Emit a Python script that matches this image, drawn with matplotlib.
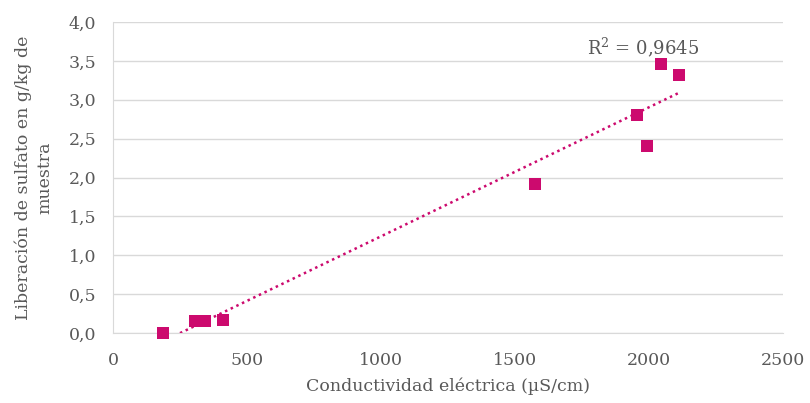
import numpy as np
import matplotlib.pyplot as plt
from matplotlib.ticker import FuncFormatter

# data
conductividad = [187, 306, 343, 411, 1575, 1955, 1993, 2045, 2112]
sulfato = [0.0, 0.16, 0.16, 0.17, 1.92, 2.80, 2.40, 3.46, 3.32]
r2_text = "R$^2$ = 0,9645"

color = "#CC0A6E"
gris = "#595959"
plt.rcParams["font.family"] = ["DejaVu Serif"]
plt.rcParams["mathtext.fontset"] = "dejavuserif"


def main():
    fig = plt.figure(figsize=(8.1, 4.03), dpi=100)
    ax = fig.add_axes([0.1395, 0.1737, 0.8272, 0.7717])

    # puntos
    ax.scatter(conductividad, sulfato, marker="s", s=80, color=color, zorder=3,
               linewidths=0, clip_on=False)

    # linea de tendencia
    x = np.array(conductividad)
    m, b = np.polyfit(x, sulfato, 1)
    xs = np.linspace(x.min(), x.max(), 100)
    ax.plot(xs, m * xs + b, linestyle=(0, (1, 1.5)), color=color, linewidth=1.8, zorder=2)
    ax.text(1978, 3.68, r2_text, ha="center", va="center", fontsize=13, color=gris)

    # formato
    ax.set_xlim(0, 2500)
    ax.set_ylim(0, 4.0)
    ax.set_xticks(range(0, 2501, 500))
    ax.set_yticks(np.arange(0, 4.01, 0.5))
    ax.yaxis.set_major_formatter(FuncFormatter(lambda v, p: f"{v:.1f}".replace(".", ",")))
    ax.grid(axis="y", color="#d9d9d9", linewidth=1)
    ax.set_axisbelow(True)
    for s in ["top", "right"]:
        ax.spines[s].set_visible(False)
    for s in ["left", "bottom"]:
        ax.spines[s].set_color("#d9d9d9")
    ax.tick_params(length=0, labelsize=12.5, colors=gris)
    ax.tick_params(axis="x", pad=14)
    ax.tick_params(axis="y", pad=12)
    ax.set_xlabel("Conductividad eléctrica (µS/cm)", fontsize=12.5, color=gris, labelpad=6)
    ax.set_ylabel("Liberación de sulfato en g/kg de\nmuestra", fontsize=12.5, color=gris,
                  labelpad=11, linespacing=1.3)

    fig.savefig("out.png", dpi=100)


main()
